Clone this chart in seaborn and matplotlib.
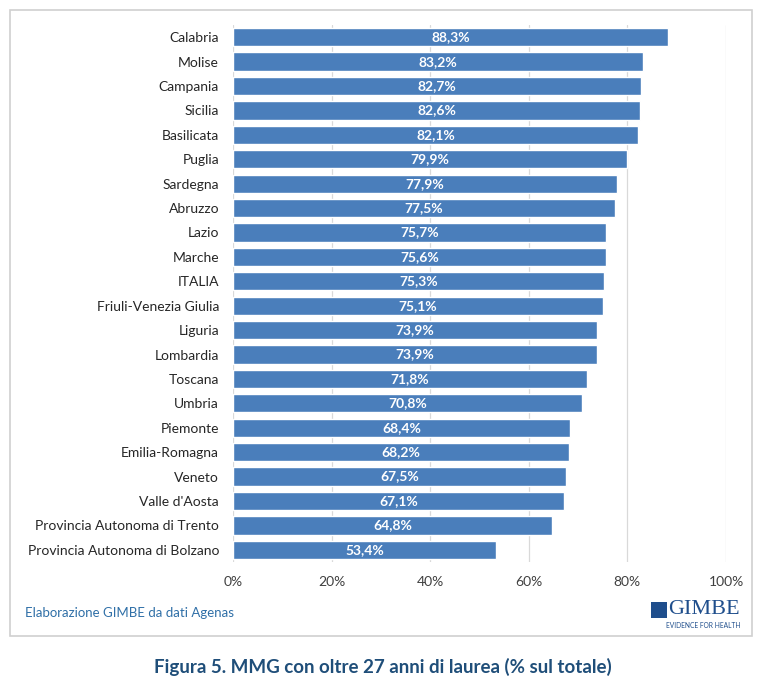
import matplotlib
matplotlib.use("Agg")
import matplotlib.pyplot as plt
import seaborn as sns
import pandas as pd
from matplotlib.patches import Rectangle

regions = ["Calabria", "Molise", "Campania", "Sicilia", "Basilicata", "Puglia",
           "Sardegna", "Abruzzo", "Lazio", "Marche", "ITALIA",
           "Friuli-Venezia Giulia", "Liguria", "Lombardia", "Toscana", "Umbria",
           "Piemonte", "Emilia-Romagna", "Veneto", "Valle d'Aosta",
           "Provincia Autonoma di Trento", "Provincia Autonoma di Bolzano"]
values = [88.3, 83.2, 82.7, 82.6, 82.1, 79.9, 77.9, 77.5, 75.7, 75.6, 75.3,
          75.1, 73.9, 73.9, 71.8, 70.8, 68.4, 68.2, 67.5, 67.1, 64.8, 53.4]
xticks = [0, 20, 40, 60, 80, 100]
xticklabels = ["0%", "20%", "40%", "60%", "80%", "100%"]

df = pd.DataFrame({"region": regions, "value": values})

sns.set_theme(style="white")
plt.rcParams['font.family'] = ['Lato', 'DejaVu Sans']

W, H = 767, 686
fig = plt.figure(figsize=(W / 100, H / 100), dpi=100)
ax = fig.add_axes([233 / W, 1 - 562 / H, (726 - 233) / W, (562 - 25) / H])

bar_color = "#4a7ebb"
sns.barplot(data=df, x="value", y="region", orient="h", color=bar_color,
            width=0.75, ax=ax, saturation=1, zorder=3)

ax.set_xlim(0, 100)
ax.set_ylim(21.5, -0.5)
ax.set_xticks(xticks)
ax.set_xticklabels(xticklabels, fontsize=10, color="#404040")
ax.tick_params(axis="y", labelsize=10, labelcolor="#262626", length=0, pad=10)
ax.tick_params(axis="x", length=0, pad=10)
ax.set_xlabel("")
ax.set_ylabel("")
for x in xticks:
    ax.axvline(x, color="#d9d9d9", lw=0.9, zorder=1)
for s in ax.spines.values():
    s.set_visible(False)

for i, v in enumerate(values):
    ax.text(v / 2, i, f"{v:.1f}%".replace(".", ","), ha="center", va="center",
            color="white", fontsize=10, fontweight="bold", zorder=4)

# outer frame
fig.patches.append(Rectangle((10 / W, 1 - 636 / H), (752 - 10) / W, (636 - 10) / H,
                             transform=fig.transFigure, fill=False,
                             edgecolor="#d0d0d0", lw=1.2))

fig.text(25 / W, 1 - 613 / H, "Elaborazione GIMBE da dati Agenas",
         fontsize=9.5, color="#2f6fa7", ha="left", va="center")

# GIMBE logo (text)
fig.text(740 / W, 1 - 609 / H, "GIMBE", fontsize=16, color="#1f4e8c",
         ha="right", va="center", family=["Liberation Serif", "DejaVu Serif"])
fig.text(740 / W, 1 - 625 / H, "EVIDENCE FOR HEALTH", fontsize=4.8,
         color="#1f4e8c", ha="right", va="center")
fig.patches.append(Rectangle((651 / W, 1 - 618 / H), 16 / W, 16 / H,
                             transform=fig.transFigure, facecolor="#1f4e8c",
                             edgecolor="none"))

fig.text(383 / W, 1 - 667 / H,
         "Figura 5. MMG con oltre 27 anni di laurea (% sul totale)",
         fontsize=13.5, fontweight="bold", color="#1f4e79", ha="center",
         va="center")

fig.savefig("out.png", dpi=100, facecolor="white")
